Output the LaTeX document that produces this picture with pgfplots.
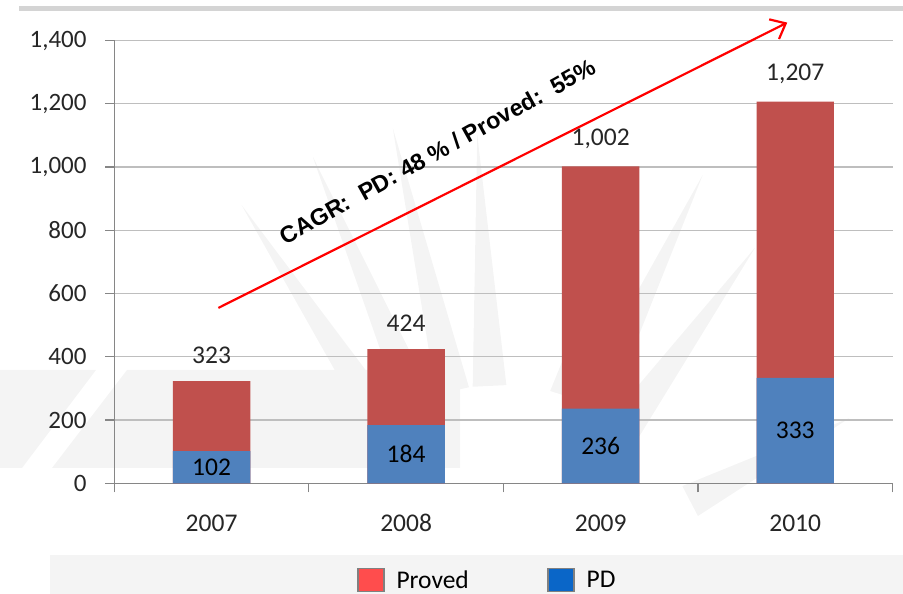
\documentclass[border=0pt]{standalone}
\usepackage{pgfplots}
\pgfplotsset{compat=1.18}
\usepackage{fontspec}
\setmainfont{Carlito}
\newfontfamily\arialbold{Liberation Sans}[BoldFont={* Bold}]
\usetikzlibrary{arrows.meta}

\definecolor{provedbar}{HTML}{C0504D}
\definecolor{pdbar}{HTML}{4F81BD}
\definecolor{provedkey}{HTML}{FF4D4D}
\definecolor{pdkey}{HTML}{0A66C8}
\definecolor{gridgray}{HTML}{BEBEBE}
\definecolor{axisgray}{HTML}{868686}
\definecolor{topbar}{HTML}{D4D4D4}
\definecolor{labeltext}{HTML}{262626}
\definecolor{emblem}{HTML}{F4F4F4}

% reserves (total) and proved developed, by year
\pgfplotstableread{
x year total pd
0 2007 323 102
1 2008 424 184
2 2009 1002 236
3 2010 1207 333
}\reserves

% one ray of the faint sun emblem behind the chart: angle, tip radius
\newcommand\ray[2]{\fill[emblem, shift={(500bp,-6bp)}] (#1:#2bp) -- (#1+4.5:215bp) -- (#1-4.5:215bp) -- cycle;}

\begin{document}
\begin{tikzpicture}
\useasboundingbox (0,0) rectangle (903bp,594bp);
% faint emblem in the background
\fill[emblem] (0bp,224bp) -- (96bp,224bp) -- (22bp,126bp) -- (0bp,126bp) -- cycle;
\fill[emblem] (127bp,224bp) -- (460bp,224bp) -- (460bp,126bp) -- (52bp,126bp) -- cycle;
\fill[emblem] (50bp,0bp) rectangle (903bp,39bp);
\ray{123.2}{472}
\ray{112.9}{481}
\ray{102.8}{484}
\ray{92.8}{466}
\ray{72}{447}
\ray{64.5}{471}
\ray{54.1}{435}
\ray{27.5}{394}
\fill[topbar] (19bp,583.3bp) rectangle (903bp,588.3bp);
\begin{axis}[
  at={(114.3bp,110.7bp)}, anchor=south west,
  scale only axis, width=778.2bp, height=442.8bp,
  xmin=-0.5, xmax=3.5, ymin=0, ymax=1400,
  axis x line=bottom, axis y line=left,
  axis line style={-, draw=axisgray, line width=1.2bp},
  ytick={0,200,...,1400},
  ymajorgrids, major grid style={draw=gridgray, line width=1.3bp},
  tick style={draw=axisgray, line width=1.2bp},
  major tick length=9bp,
  tick align=outside,
  xtick={-0.5,0.5,1.5,2.5,3.5}, xticklabels={},
  extra x ticks={0,1,2,3}, extra x tick labels={2007,2008,2009,2010},
  extra x tick style={major tick length=0pt, grid=none},
  /pgf/number format/assume math mode=true,
  /pgf/number format/1000 sep={,},
  yticklabel style={font=\fontsize{25bp}{28bp}\selectfont, text=labeltext, anchor=east, inner sep=0pt, xshift=-18.6bp},
  xticklabel style={font=\fontsize{25.5bp}{28bp}\selectfont, text=labeltext, anchor=center, inner sep=0pt, yshift=-40bp},
  ybar, bar width=0.398, bar shift=0pt,
  clip=false,
  legend columns=2,
  legend style={at={(0.3115,-0.2184)}, anchor=west, draw=none, fill=none, inner sep=0pt, outer sep=0pt,
    nodes={inner sep=0pt, font=\fontsize{25.5bp}{28bp}\selectfont, text=black},
    /tikz/every odd column/.append style={column sep=12bp},
    /tikz/every even column/.append style={column sep=78bp}},
]
% full bar height: total reserves
\addplot[fill=provedbar, draw=none, forget plot,
  nodes near coords,
  every node near coord/.append style={font=\fontsize{25.5bp}{28bp}\selectfont, text=labeltext, anchor=south, inner sep=0pt, yshift=17.5bp}]
  table[x=x, y=total] {\reserves};
% proved developed share at the base
\addplot[fill=pdbar, draw=none, forget plot,
  visualization depends on={rawy \as \rawy},
  nodes near coords,
  every node near coord/.append style={font=\fontsize{25.5bp}{28bp}\selectfont, text=black, anchor=center, inner sep=0pt, yshift=-0.5*\rawy*0.31629bp}]
  table[x=x, y=pd] {\reserves};

\addlegendimage{legend image code/.code={\draw[draw=gray, line width=1.8bp, fill=provedkey] (0bp,-11.5bp) rectangle (26bp,11.5bp);}}
\addlegendentry{Proved}
\addlegendimage{legend image code/.code={\draw[draw=gray, line width=1.8bp, fill=pdkey] (0bp,-11.5bp) rectangle (26bp,11.5bp);}}
\addlegendentry{PD}

% growth arrow with CAGR note
\draw[red, line width=2.2bp, -{Straight Barb[length=13bp, width=22bp, line width=2.2bp]}]
  (axis cs:0.035,554.5) -- (axis cs:2.959,1456.6);
\node[anchor=base, rotate=29, inner sep=0pt, font=\arialbold\bfseries\fontsize{23.4bp}{26bp}\selectfont]
  at (axis cs:1.182,1026) {CAGR:\ \ PD: 48 \% / Proved:\ \ 55\%};
\end{axis}
\end{tikzpicture}
\end{document}
